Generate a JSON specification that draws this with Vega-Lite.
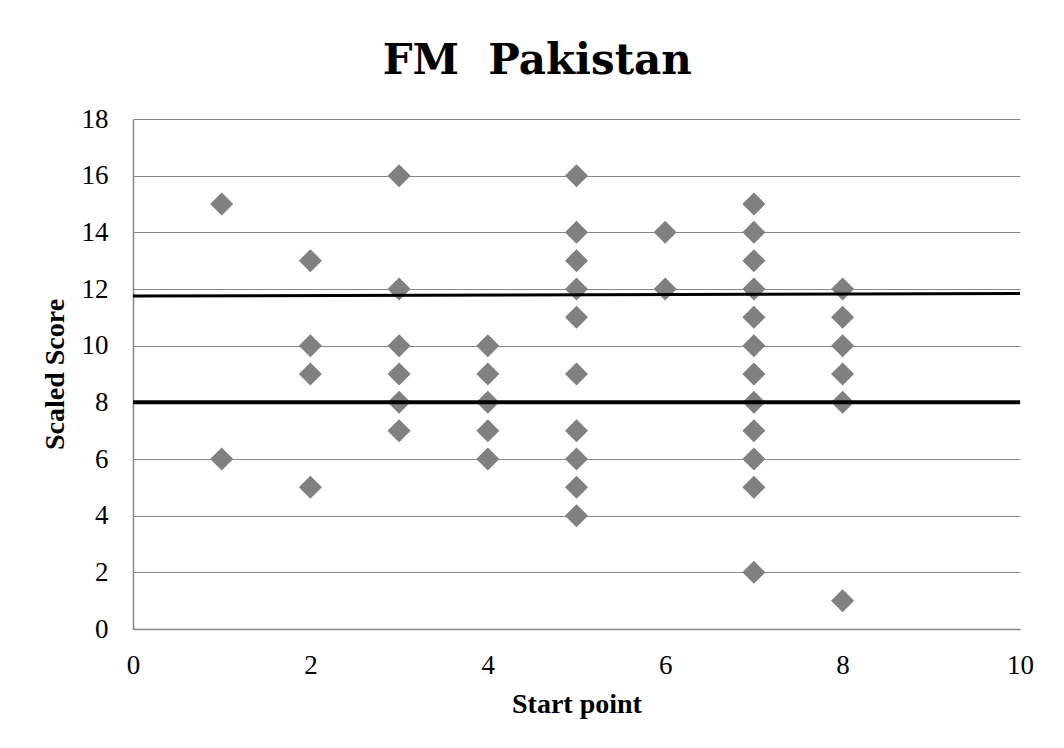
{
  "$schema": "https://vega.github.io/schema/vega-lite/v6.json",
  "autosize": {"type": "none"},
  "padding": {"left": 133, "top": 119, "right": 44, "bottom": 118},
  "width": 887,
  "height": 510,
  "background": "white",
  "title": {
    "text": "FM\u00a0 Pakistan",
    "font": "DejaVu Serif",
    "fontSize": 42,
    "fontWeight": "bold",
    "color": "black",
    "anchor": "middle",
    "frame": "bounds",
    "baseline": "alphabetic",
    "offset": -11
  },
  "config": {
    "view": {"stroke": null},
    "axis": {
      "labelFont": "Liberation Serif",
      "labelFontSize": 27,
      "labelColor": "black",
      "titleFont": "Liberation Serif",
      "titleFontSize": 28,
      "titleFontWeight": "bold",
      "titleColor": "black",
      "ticks": false,
      "domainColor": "#868686",
      "domainWidth": 1.5,
      "gridColor": "#878787",
      "gridWidth": 1,
      "gridOpacity": 1
    }
  },
  "datasets": {
    "points": [
      {"start": 1, "score": 15}, {"start": 1, "score": 6},
      {"start": 2, "score": 13}, {"start": 2, "score": 10}, {"start": 2, "score": 9}, {"start": 2, "score": 5},
      {"start": 3, "score": 16}, {"start": 3, "score": 12}, {"start": 3, "score": 10}, {"start": 3, "score": 9}, {"start": 3, "score": 8}, {"start": 3, "score": 7},
      {"start": 4, "score": 10}, {"start": 4, "score": 9}, {"start": 4, "score": 8}, {"start": 4, "score": 7}, {"start": 4, "score": 6},
      {"start": 5, "score": 16}, {"start": 5, "score": 14}, {"start": 5, "score": 13}, {"start": 5, "score": 12}, {"start": 5, "score": 11}, {"start": 5, "score": 9}, {"start": 5, "score": 7}, {"start": 5, "score": 6}, {"start": 5, "score": 5}, {"start": 5, "score": 4},
      {"start": 6, "score": 14}, {"start": 6, "score": 12},
      {"start": 7, "score": 15}, {"start": 7, "score": 14}, {"start": 7, "score": 13}, {"start": 7, "score": 12}, {"start": 7, "score": 11}, {"start": 7, "score": 10}, {"start": 7, "score": 9}, {"start": 7, "score": 8}, {"start": 7, "score": 7}, {"start": 7, "score": 6}, {"start": 7, "score": 5}, {"start": 7, "score": 2},
      {"start": 8, "score": 12}, {"start": 8, "score": 11}, {"start": 8, "score": 10}, {"start": 8, "score": 9}, {"start": 8, "score": 8}, {"start": 8, "score": 1}
    ],
    "upper": [
      {"start": 0, "score": 11.75},
      {"start": 10, "score": 11.84}
    ],
    "lower": [
      {"start": 0, "score": 8.0},
      {"start": 10, "score": 8.0}
    ]
  },
  "layer": [
    {
      "data": {"name": "points"},
      "mark": {"type": "point", "shape": "diamond", "filled": true, "size": 530, "color": "#808080", "opacity": 1},
      "encoding": {
        "x": {
          "field": "start", "type": "quantitative", "title": "Start point",
          "scale": {"domain": [0, 10], "nice": false, "zero": false},
          "axis": {"values": [0, 2, 4, 6, 8, 10], "format": "d", "grid": false, "labelPadding": 23, "titlePadding": 12, "labelFlush": false}
        },
        "y": {
          "field": "score", "type": "quantitative", "title": "Scaled Score",
          "scale": {"domain": [0, 18], "nice": false, "zero": false},
          "axis": {"values": [0, 2, 4, 6, 8, 10, 12, 14, 16, 18], "format": "d", "grid": true, "labelPadding": 25, "titlePadding": 12, "labelFlush": false}
        }
      }
    },
    {
      "data": {"name": "upper"},
      "mark": {"type": "line", "color": "black", "strokeWidth": 3, "clip": false},
      "encoding": {
        "x": {"field": "start", "type": "quantitative"},
        "y": {"field": "score", "type": "quantitative"}
      }
    },
    {
      "data": {"name": "lower"},
      "mark": {"type": "line", "color": "black", "strokeWidth": 4, "clip": false},
      "encoding": {
        "x": {"field": "start", "type": "quantitative"},
        "y": {"field": "score", "type": "quantitative"}
      }
    }
  ]
}
